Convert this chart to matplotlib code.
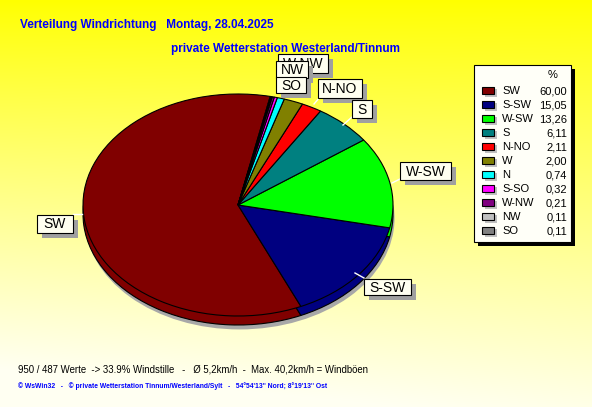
import numpy as np
import matplotlib
matplotlib.use("Agg")
import matplotlib.pyplot as plt
from matplotlib.patches import Rectangle, Ellipse

# ---------------- data ----------------
directions = ["SW", "S-SW", "W-SW", "S", "N-NO", "W", "N", "S-SO", "W-NW", "NW", "SO"]
percent = [60.00, 15.05, 13.26, 6.11, 2.11, 2.00, 0.74, 0.32, 0.21, 0.11, 0.11]
colors = ["#800000", "#000080", "#00FF00", "#008080", "#FF0000", "#808000",
          "#00FFFF", "#FF00FF", "#800080", "#C0C0C0", "#808080"]

title1 = "Verteilung Windrichtung   Montag, 28.04.2025"
title2 = "private Wetterstation Westerland/Tinnum"
footer1 = "950 / 487 Werte  -> 33.9% Windstille   -   Ø 5,2km/h  -  Max. 40,2km/h = Windböen"
footer2 = "© WsWin32   -   © private Wetterstation Tinnum/Westerland/Sylt   -   54°54'13'' Nord; 8°19'13'' Ost"

# label boxes on the pie (pixel layout: x0, y0, x1, y1) drawn in this order
label_boxes = [("W-NW", (278, 54, 328, 73)), ("NW", (276, 61, 308, 78)), ("SO", (276, 77, 306, 93)),
               ("N-NO", (318, 79, 362, 98)), ("S", (352, 100, 372, 118)),
               ("W-SW", (400, 162, 451, 180)), ("S-SW", (364, 279, 411, 295)),
               ("SW", (37, 215, 73, 233))]
leaders = [((73, 214), (82, 214)), ((355, 273), (364, 278)), ((392, 183), (400, 179)),
           ((343, 125), (352, 117)), ((314, 104), (320, 97))]

W, H = 592, 407
plt.rcParams['font.family'] = ['Liberation Sans', 'DejaVu Sans']
fig = plt.figure(figsize=(W / 100, H / 100), dpi=100)

# background gradient
ax_bg = fig.add_axes([0, 0, 1, 1])
ax_bg.set_zorder(0)
yy, xx = np.mgrid[0:1:200j, 0:1:200j]
t = np.clip(yy * 0.95 + (0.15 - 0.15 * xx) * yy, 0, 1)
img = np.zeros((200, 200, 3))
img[..., 0] = 1.0
img[..., 1] = 1.0
img[..., 2] = 0.0 + 0.95 * t ** 0.9
ax_bg.imshow(img, extent=(0, W, H, 0), aspect='auto', interpolation='bilinear')
ax_bg.set_xlim(0, W)
ax_bg.set_ylim(H, 0)
ax_bg.axis('off')

# pie axes (ellipse: rx=155 px, ry=111 px, center at (238, 205))
cx, cy, rx, ry = 238, 205, 155, 111
aw, ah = 2.5 * rx, 2.5 * ry
ax_pie = fig.add_axes([(cx - aw / 2) / W, (H - cy - ah / 2) / H, aw / W, ah / H])
ax_pie.set_zorder(1)
ax_pie.patch.set_visible(False)
depth = 9 / ry
ax_pie.add_patch(Ellipse((0.01, -depth - 0.04), 2.0, 2.0, facecolor='#A8A8A8', edgecolor='none'))
wp = dict(edgecolor='black', linewidth=0.8)
ax_pie.pie(percent, colors=colors, startangle=78, counterclock=True,
           center=(0, -depth), wedgeprops=wp)
ax_pie.pie(percent, colors=colors, startangle=78, counterclock=True,
           center=(0, 0), wedgeprops=wp)
ax_pie.set_aspect('auto')
ax_pie.set_xlim(-1.25, 1.25)
ax_pie.set_ylim(-1.25, 1.25)
ax_pie.axis('off')

# overlay axes in pixel coords
ax = fig.add_axes([0, 0, 1, 1])
ax.set_zorder(2)
ax.patch.set_visible(False)
ax.set_xlim(0, W)
ax.set_ylim(H, 0)
ax.axis('off')

blue = '#0000FF'
ax.text(20, 25, title1, color=blue, fontsize=8.5, fontweight='bold',
        va='center', ha='left', zorder=1)
ax.text(171, 49, title2, color=blue, fontsize=8.5, fontweight='bold',
        va='center', ha='left', zorder=1)

for (p0, p1) in leaders:
    ax.plot([p0[0], p1[0]], [p0[1], p1[1]], color='white', lw=1, zorder=2)

for k, (name, (x0, y0, x1, y1)) in enumerate(label_boxes):
    z = 5 + 3 * k
    ax.add_patch(Rectangle((x0 + 5, y0 + 5), x1 - x0, y1 - y0, facecolor='#A0A0A0',
                           edgecolor='none', zorder=z))
    ax.add_patch(Rectangle((x0, y0), x1 - x0, y1 - y0, facecolor='#FFFFF0',
                           edgecolor='black', lw=0.8, zorder=z + 1))
    ax.text((x0 + x1) / 2, (y0 + y1) / 2 + 0.5, name, fontsize=10, ha='center',
            va='center', color='black', zorder=z + 2)

# legend
lx0, ly0, lx1, ly1 = 474, 65, 571, 242
ax.add_patch(Rectangle((lx0 + 4, ly0 + 4), lx1 - lx0, ly1 - ly0, facecolor='black', edgecolor='none'))
ax.add_patch(Rectangle((lx0, ly0), lx1 - lx0, ly1 - ly0, facecolor='#FFFFF8', edgecolor='black', lw=0.8))
ax.text(553, 75, "%", fontsize=8, ha='center', va='center')
for i, (name, val, col) in enumerate(zip(directions, percent, colors)):
    y = 91 + 14 * i
    ax.add_patch(Rectangle((485, y - 2), 12, 8, facecolor='#C0C0C0', edgecolor='none'))
    ax.add_patch(Rectangle((482, y - 4), 12, 7, facecolor=col, edgecolor='black', lw=0.8))
    ax.text(502, y, name, fontsize=8, ha='left', va='center')
    ax.text(567, y, f"{val:.2f}".replace('.', ','), fontsize=8, ha='right', va='center')

ax.text(18, 369, footer1, fontsize=6.9, ha='left', va='center', color='black')
ax.text(18, 386, footer2, fontsize=4.9, fontweight='bold', ha='left', va='center', color=blue)

fig.savefig("out.png", dpi=100)
